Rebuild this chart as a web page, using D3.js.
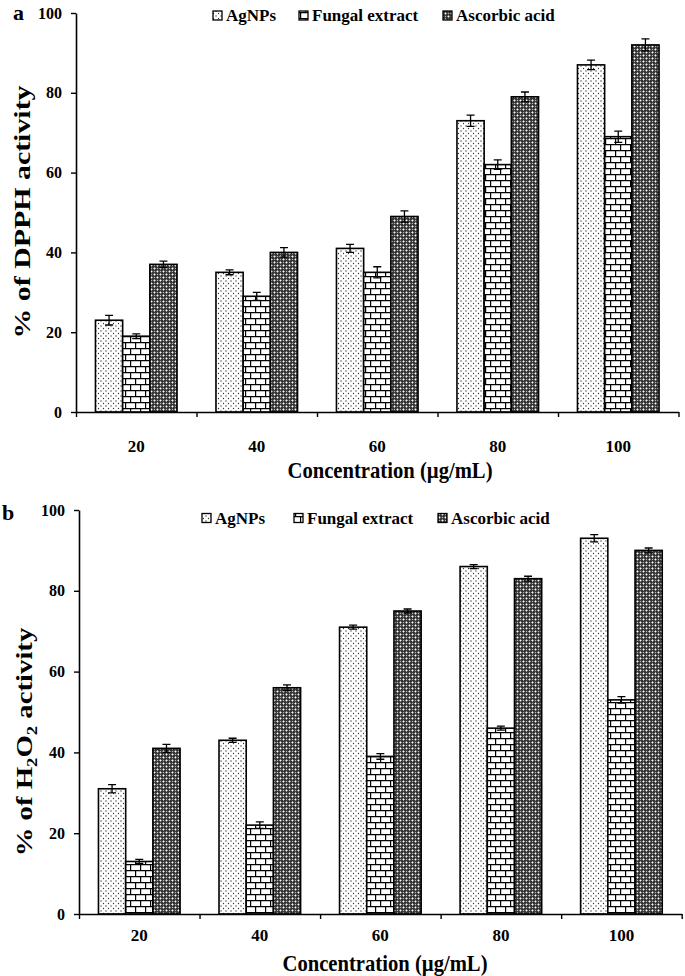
<!DOCTYPE html>
<html>
<head>
<meta charset="utf-8">
<script src="https://cdn.jsdelivr.net/npm/d3@7"></script>
<style>
  body { margin: 0; background: #fff; }
  svg { display: block; }
  text { font-family: "Liberation Serif", "Times New Roman", serif; font-weight: bold; fill: #000; }
</style>
</head>
<body>
<div id="chart"></div>
<script>
// values
var categories = ["20", "40", "60", "80", "100"];
var seriesNames = ["AgNPs", "Fungal extract", "Ascorbic acid"];
var yTicks = [0, 20, 40, 60, 80, 100];

var dpphAgNPs = [23, 35, 41, 73, 87];
var dpphFungal = [19, 29, 35, 62, 69];
var dpphAscorbic = [37, 40, 49, 79, 92];
var dpphAgNPsErr = [1.2, 0.6, 1.0, 1.4, 1.2];
var dpphFungalErr = [0.6, 1.0, 1.4, 1.2, 1.4];
var dpphAscorbicErr = [0.8, 1.2, 1.4, 1.2, 1.5];

var h2o2AgNPs = [31, 43, 71, 86, 93];
var h2o2Fungal = [13, 22, 39, 46, 53];
var h2o2Ascorbic = [41, 56, 75, 83, 90];
var h2o2AgNPsErr = [1.0, 0.5, 0.5, 0.5, 0.9];
var h2o2FungalErr = [0.5, 0.8, 0.7, 0.5, 0.8];
var h2o2AscorbicErr = [1.0, 0.7, 0.5, 0.6, 0.6];

var width = 685, height = 976;
var svg = d3.select('#chart').append('svg')
	.attr('width', width)
	.attr('height', height);

var defs = svg.append('defs');

// dotted fill (AgNPs)
var pDots = defs.append('pattern').attr('id', 'pat-dots')
	.attr('patternUnits', 'userSpaceOnUse').attr('width', 5).attr('height', 5);
pDots.append('rect').attr('width', 5).attr('height', 5).attr('fill', '#fff');
pDots.append('circle').attr('cx', 1).attr('cy', 1).attr('r', 0.65).attr('fill', '#333');
pDots.append('circle').attr('cx', 3.5).attr('cy', 3.5).attr('r', 0.65).attr('fill', '#333');

// brick fill (fungal extract)
var pBrick = defs.append('pattern').attr('id', 'pat-brick')
	.attr('patternUnits', 'userSpaceOnUse').attr('width', 10).attr('height', 12);
pBrick.append('rect').attr('width', 10).attr('height', 12).attr('fill', '#fff');
pBrick.append('path')
	.attr('d', 'M0,0.6H10M0,6.6H10M0.6,0V6M5.6,6V12')
	.attr('stroke', '#000').attr('stroke-width', 1.2).attr('fill', 'none');

// dark weave fill (ascorbic acid)
var pWeave = defs.append('pattern').attr('id', 'pat-weave')
	.attr('patternUnits', 'userSpaceOnUse').attr('width', 6).attr('height', 6);
pWeave.append('rect').attr('width', 6).attr('height', 6).attr('fill', '#333');
pWeave.append('path')
	.attr('d', 'M1.5,0.3L2.7,1.5L1.5,2.7L0.3,1.5Z M4.5,3.3L5.7,4.5L4.5,5.7L3.3,4.5Z')
	.attr('fill', '#fff');
pWeave.append('rect').attr('x', 3.9).attr('y', 0.9).attr('width', 1.2).attr('height', 1.2).attr('fill', '#bbb');
pWeave.append('rect').attr('x', 0.9).attr('y', 3.9).attr('width', 1.2).attr('height', 1.2).attr('fill', '#bbb');

var fills = ['url(#pat-dots)', 'url(#pat-brick)', 'url(#pat-weave)'];

function drawPanel(opt) {
	var g = svg.append('g');

	var y = d3.scaleLinear().domain([0, 100]).range([opt.bottom, opt.top]);
	var xLin = d3.scaleLinear().domain([0, categories.length]).range([opt.left, opt.right]);
	var x0 = d3.scaleBand().domain(categories).range([opt.left, opt.right])
		.paddingInner(0.323).paddingOuter(0.1615);
	var x1 = d3.scaleBand().domain(seriesNames).range([0, x0.bandwidth()]);

	// bars
	opt.series.forEach(function(vals, si) {
		g.append('g').selectAll('rect')
			.data(vals)
			.join('rect')
			.attr('x', function(d, i) { return x0(categories[i]) + x1(seriesNames[si]); })
			.attr('y', function(d) { return y(d); })
			.attr('width', x1.bandwidth())
			.attr('height', function(d) { return y(0) - y(d); })
			.attr('fill', fills[si])
			.attr('stroke', '#000')
			.attr('stroke-width', 1.6);

		// error bars
		var errs = opt.errors[si];
		var eb = g.append('g').attr('stroke', '#000').attr('stroke-width', 1.3).attr('fill', 'none');
		eb.selectAll('path')
			.data(vals)
			.join('path')
			.attr('d', function(d, i) {
				var cx = x0(categories[i]) + x1(seriesNames[si]) + x1.bandwidth() / 2;
				var y1 = y(d + errs[i]), y2 = y(d - errs[i]);
				return 'M' + (cx - 4) + ',' + y1 + 'H' + (cx + 4) +
					'M' + cx + ',' + y1 + 'V' + y2 +
					'M' + (cx - 4) + ',' + y2 + 'H' + (cx + 4);
			});
	});

	// y axis
	var yAxis = g.append('g')
		.attr('transform', 'translate(' + opt.left + ',0)')
		.call(d3.axisLeft(y).tickValues(yTicks).tickSize(5).tickSizeOuter(0).tickPadding(opt.yPad));
	yAxis.select('.domain').attr('stroke-width', 1.6);
	yAxis.selectAll('.tick line').attr('stroke-width', 1.4);
	yAxis.selectAll('.tick text')
		.attr('font-size', 16)
		.attr('font-family', '"Liberation Serif", serif')
		.attr('font-weight', 'bold');

	// x axis (ticks at the category boundaries)
	var xAxis = g.append('g')
		.attr('transform', 'translate(0,' + opt.bottom + ')')
		.call(d3.axisBottom(xLin).tickValues(d3.range(categories.length + 1))
			.tickSize(5).tickSizeOuter(0).tickFormat(''));
	xAxis.select('.domain').attr('stroke-width', 1.6);
	xAxis.selectAll('.tick line').attr('stroke-width', 1.4);

	g.append('g').selectAll('text')
		.data(categories)
		.join('text')
		.attr('x', function(d) { return x0(d) + x0.bandwidth() / 2; })
		.attr('y', opt.bottom + opt.catDy)
		.attr('text-anchor', 'middle')
		.attr('font-size', 17)
		.text(function(d) { return d; });

	// x title
	g.append('text')
		.attr('transform', 'translate(' + opt.xTitleX + ',' + opt.xTitleY + ') scale(0.86,1)')
		.attr('text-anchor', 'middle')
		.attr('font-size', 24)
		.text('Concentration (µg/mL)');

	// y title
	var yt = g.append('text')
		.attr('transform', 'translate(' + opt.yTitleX + ',' + opt.yTitleY + ') rotate(-90) scale(' + opt.yTitleScale + ',1)')
		.attr('text-anchor', 'middle')
		.attr('font-size', 23);
	opt.yTitle(yt);

	// panel letter
	g.append('text')
		.attr('x', opt.letterX).attr('y', opt.letterY)
		.attr('font-size', 22)
		.text(opt.letter);

	// legend
	var lg = g.append('g');
	seriesNames.forEach(function(name, si) {
		var lx = opt.legendX[si];
		lg.append('rect')
			.attr('x', lx).attr('y', opt.legendY - 4.5)
			.attr('width', 9).attr('height', 9)
			.attr('fill', fills[si])
			.attr('stroke', '#000').attr('stroke-width', 1.3);
		lg.append('text')
			.attr('x', lx + 13).attr('y', opt.legendY + 5.5)
			.attr('font-size', 17)
			.text(name);
	});
}

drawPanel({
	letter: 'a', letterX: 13, letterY: 20,
	left: 76, right: 678.5, top: 13, bottom: 412,
	yPad: 9, catDy: 40,
	series: [dpphAgNPs, dpphFungal, dpphAscorbic],
	errors: [dpphAgNPsErr, dpphFungalErr, dpphAscorbicErr],
	xTitleX: 390, xTitleY: 478,
	yTitleX: 30, yTitleY: 212, yTitleScale: 1.3,
	yTitle: function(t) { t.text('% of DPPH activity'); },
	legendX: [213, 299, 443], legendY: 15.5
});

drawPanel({
	letter: 'b', letterX: 2, letterY: 520,
	left: 79, right: 681.7, top: 510, bottom: 914,
	yPad: 9, catDy: 27,
	series: [h2o2AgNPs, h2o2Fungal, h2o2Ascorbic],
	errors: [h2o2AgNPsErr, h2o2FungalErr, h2o2AscorbicErr],
	xTitleX: 385, xTitleY: 971,
	yTitleX: 32, yTitleY: 742, yTitleScale: 1.25,
	yTitle: function(t) {
		t.append('tspan').text('% of H');
		t.append('tspan').attr('font-size', 15).attr('dy', 5).text('2');
		t.append('tspan').attr('dy', -5).text('O');
		t.append('tspan').attr('font-size', 15).attr('dy', 5).text('2');
		t.append('tspan').attr('dy', -5).text(' activity');
	},
	legendX: [202, 294, 438], legendY: 518
});
</script>
</body>
</html>
